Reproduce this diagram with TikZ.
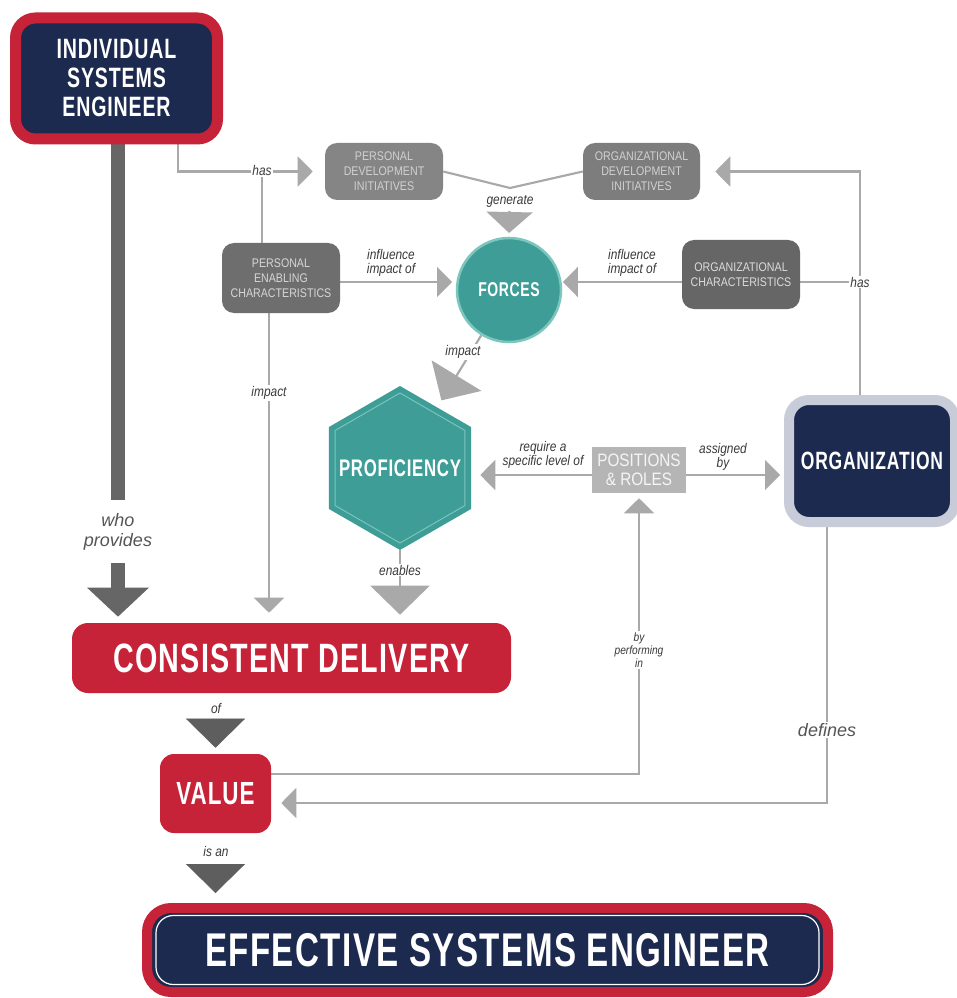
\documentclass[tikz,border=0pt]{standalone}
\usepackage{fontspec}
\usetikzlibrary{arrows.meta,shapes.geometric,backgrounds}
\newfontfamily\hfont[FakeStretch=0.7,LetterSpace=3]{Liberation Sans}
\newfontfamily\lfont[FakeStretch=0.85]{Liberation Sans}
\newfontfamily\nfont{Liberation Sans}
\definecolor{navy}{HTML}{1D2A4F}
\definecolor{redc}{HTML}{C62238}
\definecolor{teal}{HTML}{3E9E97}
\definecolor{teall}{HTML}{7CC6BE}
\definecolor{lineg}{HTML}{A9A9A9}
\definecolor{darkg}{HTML}{5E5E5E}
\definecolor{barg}{HTML}{666666}
\definecolor{orgb}{HTML}{C8CCD8}
\definecolor{labc}{HTML}{3A3A3A}
\definecolor{labg}{HTML}{555555}
\begin{document}
\begin{tikzpicture}[x=0.75pt,y=-0.75pt,
  sz/.style 2 args={minimum width=#1*0.75pt, minimum height=#2*0.75pt},
  bigbox/.style={fill=navy, text=white, align=center, inner sep=0pt},
  redbox/.style={fill=redc, text=white, align=center, inner sep=0pt},
  graybox/.style={rounded corners=9pt, inner sep=0pt, align=center, text=#1,
    font=\lfont\fontsize{9.4}{11.2}\selectfont},
  hexa/.style={regular polygon, regular polygon sides=6, shape border rotate=30,
    inner sep=0pt},
  conn/.style={draw=lineg, line width=1.6pt},
  dconn/.style={draw=darkg, line width=0.3pt},
  bar/.style={draw=barg, line width=10.5pt},
  tipS/.style={-{Triangle[length=11.25pt,width=22.5pt]}},
  tipB/.style={-{Triangle[length=21.75pt,width=44.25pt]}},
  tipG/.style={-{Triangle[length=15.75pt,width=34.5pt]}},
  lab/.style={fill=white, inner sep=1pt, align=center, text=labc,
    font=\lfont\itshape\fontsize{10.5}{10.5}\selectfont},
  labB/.style={fill=white, inner sep=1pt, align=center, text=labg,
    font=\nfont\itshape\fontsize{13.5}{15}\selectfont},
  ttl/.style={font=\hfont\bfseries\fontsize{#1}{#1}\selectfont}
]
\useasboundingbox (0,0) rectangle (956,998);

% main nodes
\node[bigbox, sz={202}{121}, draw=redc, line width=8.25pt, rounded corners=15pt,
  font=\hfont\bfseries\fontsize{21}{21.75}\selectfont] (ise) at (116.5,78.5)
  {INDIVIDUAL\\SYSTEMS\\ENGINEER};
\node[graybox=black!18, fill=black!48, sz={118}{57}] (pdi) at (384,171.5)
  {PERSONAL\\DEVELOPMENT\\INITIATIVES};
\node[graybox=black!18, fill=black!51, sz={117}{57}] (odi) at (641.5,171.5)
  {ORGANIZATIONAL\\DEVELOPMENT\\INITIATIVES};
\node[graybox=black!16, fill=black!57, sz={118}{70}] (pec) at (281,278)
  {PERSONAL\\ENABLING\\CHARACTERISTICS};
\node[graybox=black!14, fill=black!60, sz={118}{69}] (oc) at (741,274.5)
  {ORGANIZATIONAL\\CHARACTERISTICS};
\node[circle, fill=teal, draw=teall, line width=1.9pt, minimum size=78pt,
  inner sep=0pt, text=white, ttl=15] (forces) at (509,290) {FORCES};
\node[hexa, minimum size=123pt, fill=teal] (prof) at (400,468) {};
\node[hexa, minimum size=112.5pt, draw=teall, line width=0.7pt]
  (profin) at (prof.center) {};
\node[text=white, inner sep=0pt, ttl=18] (proftxt) at (prof.center) {PROFICIENCY};
\node[fill=black!29, sz={94}{46}, inner sep=0pt, align=center, text=black!4,
  font=\lfont\fontsize{13.5}{14.25}\selectfont] (pr) at (639,470)
  {POSITIONS\\\& ROLES};
\node[bigbox, sz={166}{122}, draw=orgb, line width=7.5pt, rounded corners=15pt,
  ttl=18.75] (org) at (872,461) {ORGANIZATION};
\node[redbox, sz={439}{70}, rounded corners=12pt, ttl=30.75] (cd) at (291.5,658)
  {CONSISTENT DELIVERY};
\node[redbox, sz={111}{79}, rounded corners=10.5pt, ttl=24] (val) at (215.5,793.5)
  {VALUE};
\node[bigbox, sz={681}{84}, draw=redc, line width=7.5pt, rounded corners=18pt,
  ttl=35.5] (ese) at (487.5,950) {EFFECTIVE SYSTEMS ENGINEER};
\node[sz={663}{69}, draw=white, line width=0.9pt, rounded corners=13pt]
  (esein) at (ese.center) {};

% labels
\node[labB] (who) at (118,532) {who\\provides};
\node[lab] (has1) at (262,170) {has};
\node[lab] (infl1) at (391,263) {influence\\impact of};
\node[lab] (gen) at (510,201) {generate};
\node[lab] (infl2) at (632,263) {influence\\impact of};
\node[lab] (hasR) at (860,282) {has};
\node[lab] (impF) at (463,352) {impact};
\node[lab] (impP) at (269,393) {impact};
\node[lab] (req) at (543,455) {require a\\specific level of};
\node[lab] (asg) at (723,457) {assigned\\by};
\node[lab] (enab) at (400,570) {enables};
\node[lab, font=\lfont\itshape\fontsize{9}{9.75}\selectfont] (byp) at (639,650)
  {by\\performing\\in};
\node[lab] (ofl) at (216,708) {of};
\node[lab] (isan) at (216,851) {is an};
\node[labB] (defl) at (827,730) {defines};

% free ends / rows
\coordinate (barEnd) at (118,500);
\coordinate (stemStart) at (118,563);
\coordinate (vtx) at (510,188);
\coordinate (rowF) at (0,282);
\coordinate (rowP) at (0,475);
\coordinate (rowV) at (0,774);
\coordinate (rowD) at (0,803);

\begin{pgfonlayer}{background}
\fill[white] (0,0) rectangle (956,998);
% individual -> consistent delivery
\draw[bar] (ise.south -| barEnd) -- (barEnd);
\draw[bar, -{Triangle[length=21.75pt,width=45pt]}, shorten >=4.5pt]
  (stemStart) -- (cd.north -| stemStart);
% has
\draw[conn, tipS, shorten >=9pt] ([xshift=46pt]ise.south) |- (pdi.west);
\draw[conn] (pec.north -| has1) -- (has1.south);
% generate
\draw[conn] (pdi.east) -- (vtx) -- (odi.west);
\draw[conn, tipG, shorten <=17.25pt, shorten >=2.8pt] (vtx) -- (forces.north);
% influence
\draw[conn, tipS, shorten >=2.8pt] (pec.east |- rowF) -- (forces.west |- rowF);
\draw[conn, tipS, shorten >=0.5pt] (oc.west |- rowF) -- (forces.east |- rowF);
\draw[conn] (oc.east |- rowF) -- (hasR.west);
\draw[conn, tipS, shorten >=11.25pt] (org.north -| hasR) |- (odi.east);
% impact
\draw[conn, -{Triangle[length=21.75pt,width=43.5pt]}, shorten >=6pt] (forces) -- (prof);
\draw[conn, tipS, shorten >=7.5pt] (pec.south -| impP) -- (cd.north -| impP);
\draw[conn, tipB, shorten >=6pt] (prof) -- (cd.north -| prof);
% positions & roles
\draw[conn, tipS, shorten >=6.75pt] (pr.west |- rowP) -- (prof.0 |- rowP);
\draw[conn, tipS, shorten >=3pt] (pr.east |- rowP) -- (org.west |- rowP);
\draw[conn, tipS, shorten >=3.75pt] (val.east |- rowV) -| (pr.south);
\draw[conn, tipS, shorten >=7.5pt] (org.south -| defl) |- (val.east |- rowD);
% of / is an
\draw[dconn, tipB, shorten <=19.6pt, shorten >=4.5pt] (cd.south -| val) -- (val.north);
\draw[dconn, tipB, shorten <=23.3pt, shorten >=7.5pt] (val.south) -- (ese.north -| val);
\end{pgfonlayer}
\end{tikzpicture}
\end{document}
